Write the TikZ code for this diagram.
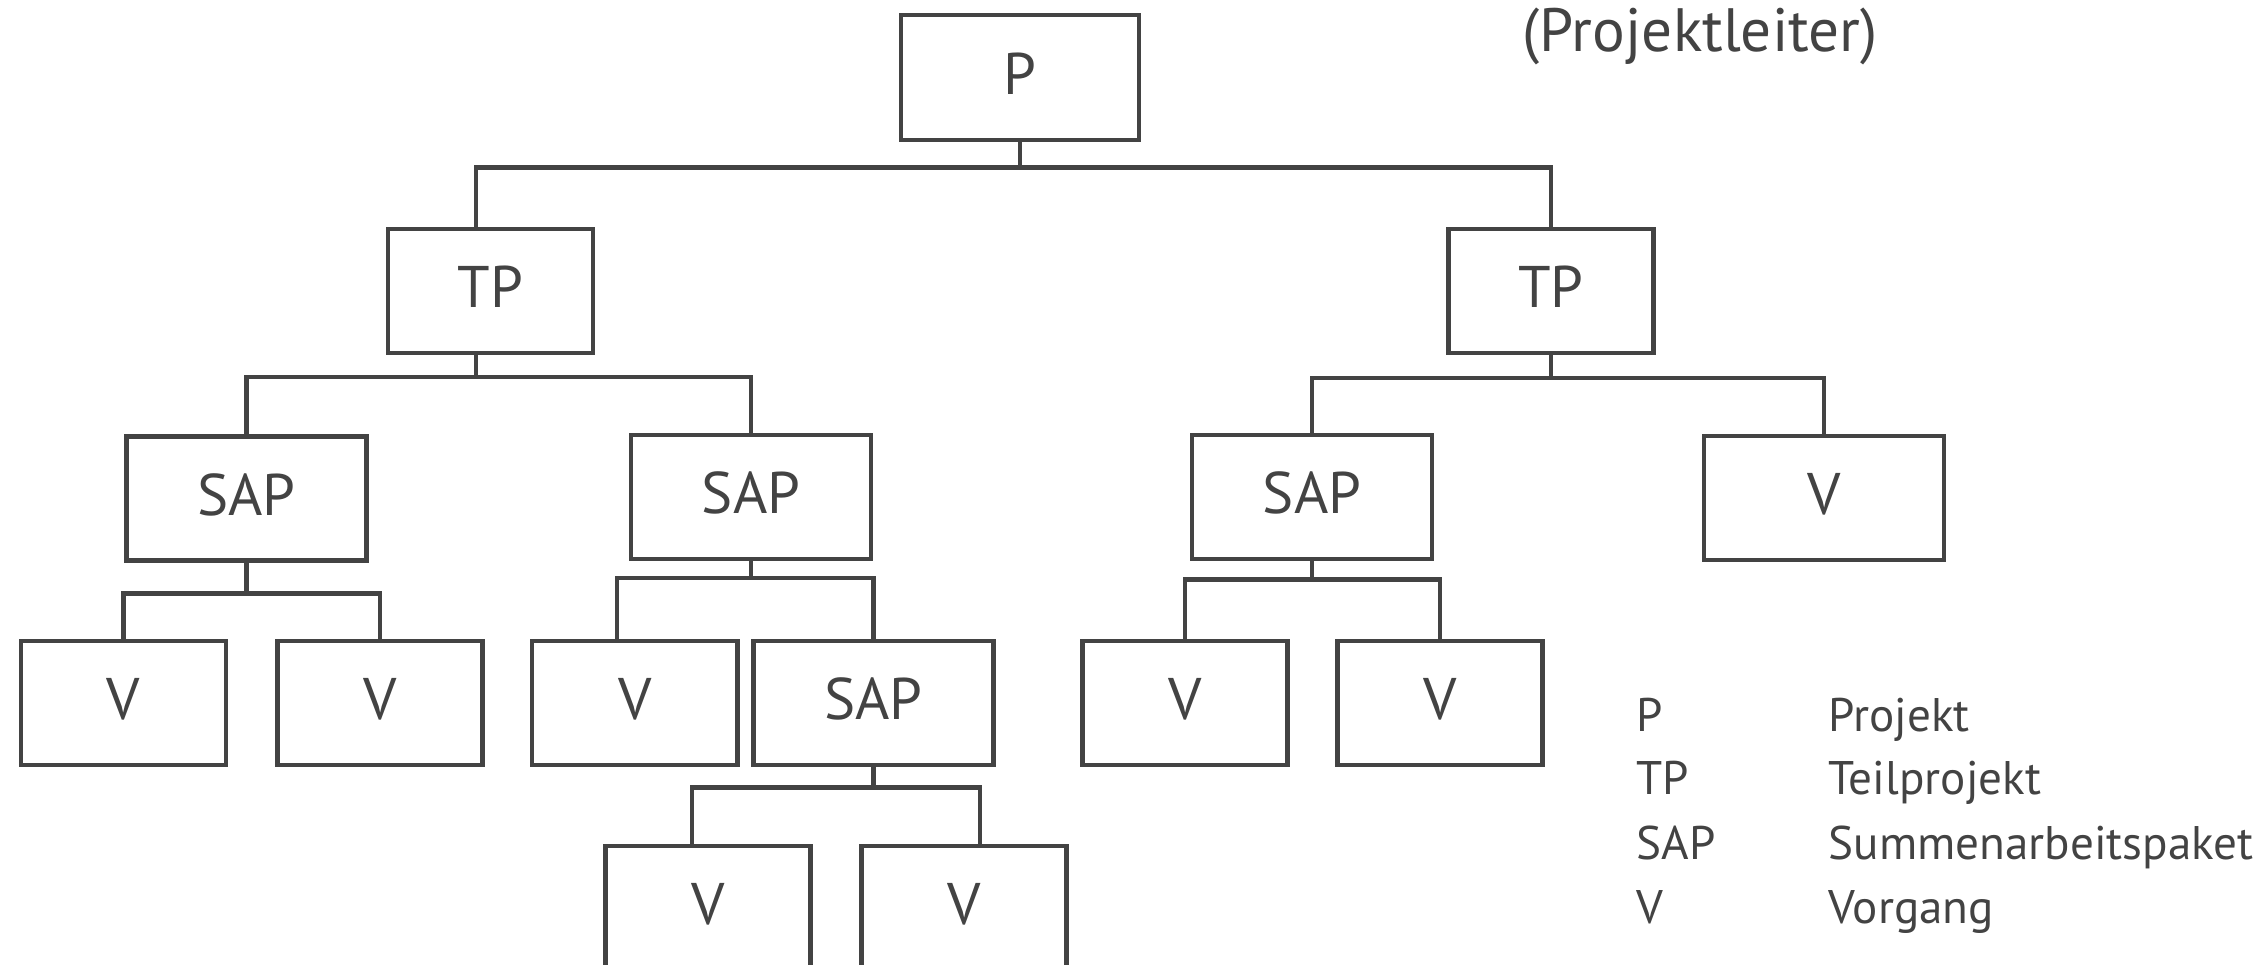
\documentclass[tikz,border=0pt]{standalone}
\usepackage{fontspec}
\setmainfont{PT Sans}
\definecolor{ink}{HTML}{434343}
\begin{document}
\begin{tikzpicture}[x=0.01cm,y=-0.01cm,
  box/.style={draw=ink, line width=0.045cm, rectangle, inner sep=0pt,
    minimum height=1.24cm, text=ink, font=\fontsize{16.7}{20}\selectfont,
    text height=11.7pt, text depth=2.3pt},
  narrow/.style={box, minimum width=2.05cm},
  wide/.style={box, minimum width=2.40cm},
  conn/.style={draw=ink, line width=0.045cm},
  legend/.style={anchor=base west, inner sep=0pt, text=ink,
    font=\fontsize{13.4}{16}\selectfont}]
\useasboundingbox (0,0) rectangle (2264,965);

% tree nodes
\node[box, minimum width=2.38cm, minimum height=1.25cm] (P) at (1020,77.5) {P};
\node[narrow] (TPL) at (490.5,291) {TP};
\node[narrow] (TPR) at (1551,291) {TP};
\node[wide] (SAPa) at (246.5,498.5) {SAP};
\node[wide] (SAPb) at (751,497) {SAP};
\node[wide] (SAPc) at (1312,497) {SAP};
\node[wide] (Vr) at (1824,498) {V};
\node[narrow] (Va) at (123.5,703) {V};
\node[narrow] (Vb) at (380,703) {V};
\node[narrow] (Vc) at (634.7,703) {V};
\node[wide] (SAPd) at (873.5,703) {SAP};
\node[narrow] (Vg) at (1185,703) {V};
\node[narrow] (Vh) at (1440,703) {V};
\node[narrow] (Ve) at (708,908) {V};
\node[narrow] (Vf) at (964,908) {V};

% bus heights
\coordinate (busP) at (0,167.5);
\coordinate (busTPL) at (0,377);
\coordinate (busTPR) at (0,378);
\coordinate (busA) at (0,593.5);
\coordinate (busB) at (0,578);
\coordinate (busC) at (0,579.5);
\coordinate (busD) at (0,787.5);

% off-centre drop points
\coordinate (tplN) at ([xshift=-0.145cm]TPL.north);
\coordinate (tplS) at ([xshift=-0.145cm]TPL.south);
\coordinate (vcN) at ([xshift=-0.177cm]Vc.north);
\coordinate (veN) at ([xshift=-0.16cm]Ve.north);
\coordinate (vfN) at ([xshift=0.16cm]Vf.north);

% connectors
\draw[conn] (P.south) -- (P.south |- busP);
\draw[conn] (tplN) |- (TPR.north |- busP) -- (TPR.north);

\draw[conn] (tplS) -- (tplS |- busTPL);
\draw[conn] (SAPa.north) |- (SAPb.north |- busTPL) -- (SAPb.north);

\draw[conn] (TPR.south) -- (TPR.south |- busTPR);
\draw[conn] (SAPc.north) |- (Vr.north |- busTPR) -- (Vr.north);

\draw[conn] (SAPa.south) -- (SAPa.south |- busA);
\draw[conn] (Va.north) |- (Vb.north |- busA) -- (Vb.north);

\draw[conn] (SAPb.south) -- (SAPb.south |- busB);
\draw[conn] (vcN) |- (SAPd.north |- busB) -- (SAPd.north);

\draw[conn] (SAPc.south) -- (SAPc.south |- busC);
\draw[conn] (Vg.north) |- (Vh.north |- busC) -- (Vh.north);

\draw[conn] (SAPd.south) -- (SAPd.south |- busD);
\draw[conn] (veN) |- (vfN |- busD) -- (vfN);

% role note
\node[anchor=base west, inner sep=0pt, text=ink, font=\fontsize{17.4}{21}\selectfont]
  (lead) at (1522,52) {(Projektleiter)};

% legend
\node[legend] (kP) at (1636,731.5) {P};
\node[legend] (dP) at (1828,731.5) {Projekt};
\node[legend] (kTP) at (1636,795) {TP};
\node[legend] (dTP) at (1828,795) {Teilprojekt};
\node[legend] (kSAP) at (1636,860) {SAP};
\node[legend] (dSAP) at (1828,860) {Summenarbeitspaket};
\node[legend] (kV) at (1636,924) {V};
\node[legend] (dV) at (1828,924) {Vorgang};
\end{tikzpicture}
\end{document}
